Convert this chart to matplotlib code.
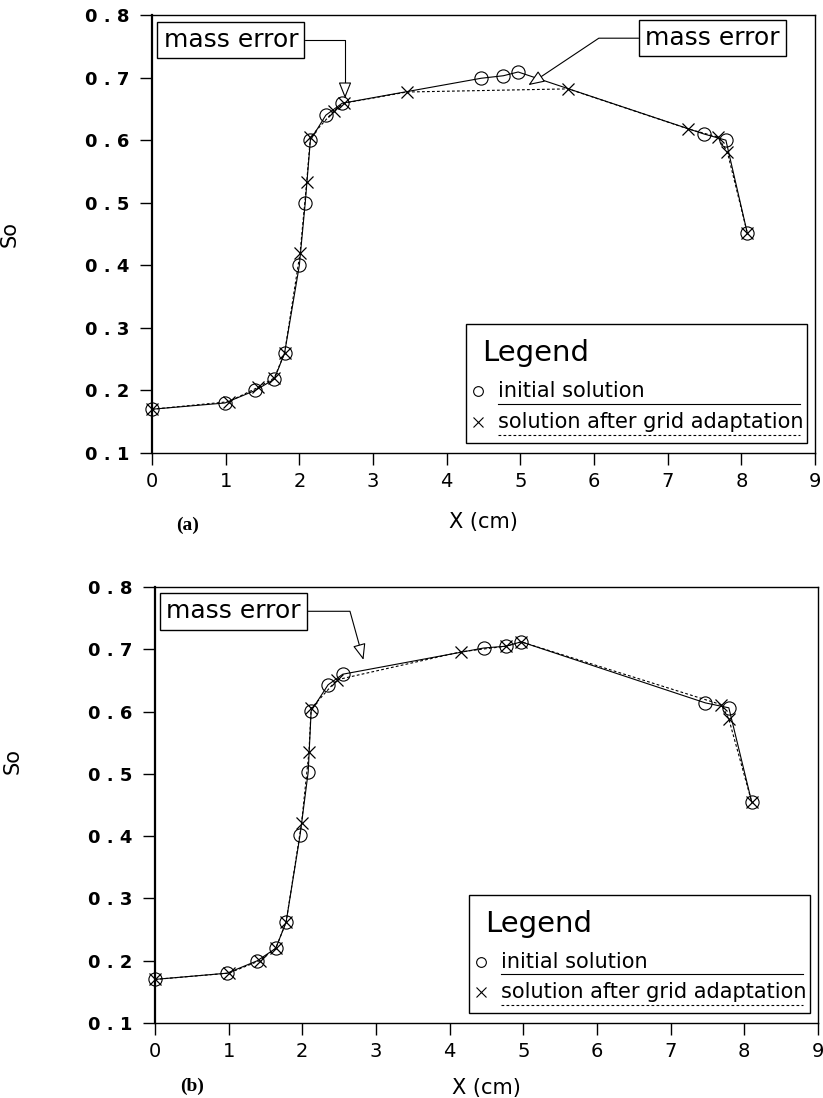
import numpy as np
import matplotlib.pyplot as plt
from matplotlib.patches import Rectangle

# panel (a): initial solution (circles) and solution after grid adaptation (crosses)
xa_init = [0.0, 0.99, 1.40, 1.66, 1.80, 2.00, 2.08, 2.15, 2.36, 2.58, 4.47, 4.77, 4.97, 7.49, 7.79, 8.08]
ya_init = [0.170, 0.180, 0.200, 0.218, 0.260, 0.400, 0.500, 0.600, 0.640, 0.659, 0.699, 0.703, 0.709, 0.610, 0.600, 0.452]
xa_adapt = [0.0, 1.04, 1.44, 1.66, 1.80, 2.01, 2.10, 2.15, 2.47, 2.60, 3.46, 5.65, 7.28, 7.68, 7.81, 8.08]
ya_adapt = [0.170, 0.182, 0.205, 0.220, 0.260, 0.420, 0.533, 0.605, 0.647, 0.659, 0.677, 0.682, 0.618, 0.605, 0.581, 0.452]

# panel (b)
xb_init = [0.0, 0.98, 1.39, 1.64, 1.78, 1.97, 2.08, 2.12, 2.35, 2.55, 4.46, 4.77, 4.97, 7.47, 7.79, 8.10]
yb_init = [0.170, 0.180, 0.200, 0.220, 0.262, 0.402, 0.503, 0.601, 0.643, 0.660, 0.702, 0.705, 0.712, 0.614, 0.606, 0.455]
xb_adapt = [0.0, 1.00, 1.42, 1.64, 1.78, 1.99, 2.09, 2.12, 2.47, 4.16, 4.77, 4.97, 7.69, 7.79, 8.10]
yb_adapt = [0.170, 0.180, 0.200, 0.220, 0.262, 0.421, 0.535, 0.605, 0.651, 0.696, 0.705, 0.712, 0.611, 0.588, 0.455]

xticks = list(range(10))
yticks = [0.1, 0.2, 0.3, 0.4, 0.5, 0.6, 0.7, 0.8]
ytick_labels = ["0 . 1", "0 . 2", "0 . 3", "0 . 4", "0 . 5", "0 . 6", "0 . 7", "0 . 8"]

fig = plt.figure(figsize=(8.23, 10.98), dpi=100)
ax_a = fig.add_axes([0.1847, 0.5874, 0.8056, 0.3989])
ax_b = fig.add_axes([0.1883, 0.0683, 0.8056, 0.3971])

dash = (0, (2.5, 2))


def draw_panel(ax, x_init, y_init, x_adapt, y_adapt):
    ax.plot(x_init, y_init, color='black', lw=0.8, marker='o', mfc='none', mec='black',
            ms=9.5, mew=0.8, clip_on=False, zorder=3)
    ax.plot(x_adapt, y_adapt, color='black', lw=0.8, linestyle=dash, marker='x', mec='black',
            ms=9, mew=0.9, clip_on=False, zorder=3)
    ax.set_xlim(0, 9)
    ax.set_ylim(0.1, 0.8)
    ax.set_xticks(xticks)
    ax.set_xticklabels([str(t) for t in xticks], fontsize=14)
    ax.set_yticks(yticks)
    ax.set_yticklabels(ytick_labels, fontsize=13, fontweight='bold')
    ax.tick_params(axis='both', direction='out', length=8.5, width=1.0, color='black')
    ax.tick_params(axis='x', pad=5)
    ax.tick_params(axis='y', pad=8)
    for s in ax.spines.values():
        s.set_linewidth(1.0)
    ax.spines['left'].set_linewidth(1.6)

    # hand-made legend box with underlined entries
    ax.add_patch(Rectangle((0.474, 0.022), 0.514, 0.272, transform=ax.transAxes,
                           fc='white', ec='black', lw=1.0, zorder=4))
    ax.text(0.498, 0.228, "Legend", transform=ax.transAxes, fontsize=21,
            ha='left', va='center', zorder=5)
    ax.plot([0.492], [0.141], transform=ax.transAxes, marker='o', mfc='none', mec='black',
            ms=7, mew=0.8, zorder=5)
    ax.text(0.522, 0.141, "initial solution", transform=ax.transAxes, fontsize=15,
            ha='left', va='center', zorder=5)
    ax.plot([0.522, 0.977], [0.112, 0.112], transform=ax.transAxes, color='black', lw=0.8, zorder=5)
    ax.plot([0.492], [0.070], transform=ax.transAxes, marker='x', mec='black',
            ms=7, mew=0.8, zorder=5)
    ax.text(0.522, 0.070, "solution after grid adaptation", transform=ax.transAxes, fontsize=15,
            ha='left', va='center', zorder=5)
    ax.plot([0.522, 0.977], [0.041, 0.041], transform=ax.transAxes, color='black', lw=0.8,
            linestyle=dash, zorder=5)

    ax.set_xlabel("X (cm)", fontsize=15)
    ax.set_ylabel("So", fontsize=15)


def mass_error(ax, tip, text_pos, rel, angle_b):
    ax.annotate("mass error", xy=tip, xytext=text_pos, textcoords='data', fontsize=18,
                ha='center', va='center', zorder=6,
                bbox=dict(boxstyle='square,pad=0.25', fc='white', ec='black', lw=1.0),
                arrowprops=dict(arrowstyle='-|>,head_length=0.55,head_width=0.22', fc='white',
                                ec='black', lw=0.8, shrinkA=0, shrinkB=0, relpos=rel,
                                connectionstyle='angle,angleA=0,angleB=%g,rad=0' % angle_b))


draw_panel(ax_a, xa_init, ya_init, xa_adapt, ya_adapt)
draw_panel(ax_b, xb_init, yb_init, xb_adapt, yb_adapt)

mass_error(ax_a, (2.62, 0.667), (1.07, 0.760), (1, 0.5), 90)
mass_error(ax_a, (5.11, 0.688), (7.61, 0.763), (0, 0.5), 33.7)
mass_error(ax_b, (2.83, 0.683), (1.07, 0.761), (1, 0.5), 105.5)

ax_a.xaxis.set_label_coords(0.5, -0.135)
ax_b.xaxis.set_label_coords(0.5, -0.125)
ax_a.yaxis.set_label_coords(-0.199, 0.5)
ax_b.yaxis.set_label_coords(-0.199, 0.6)

ax_a.text(0.054, -0.164, "(a)", transform=ax_a.transAxes, fontsize=14, fontweight='bold',
          family='Liberation Serif', ha='center', va='center')
ax_b.text(0.056, -0.145, "(b)", transform=ax_b.transAxes, fontsize=14, fontweight='bold',
          family='Liberation Serif', ha='center', va='center')

fig.savefig("out.png", dpi=100)
